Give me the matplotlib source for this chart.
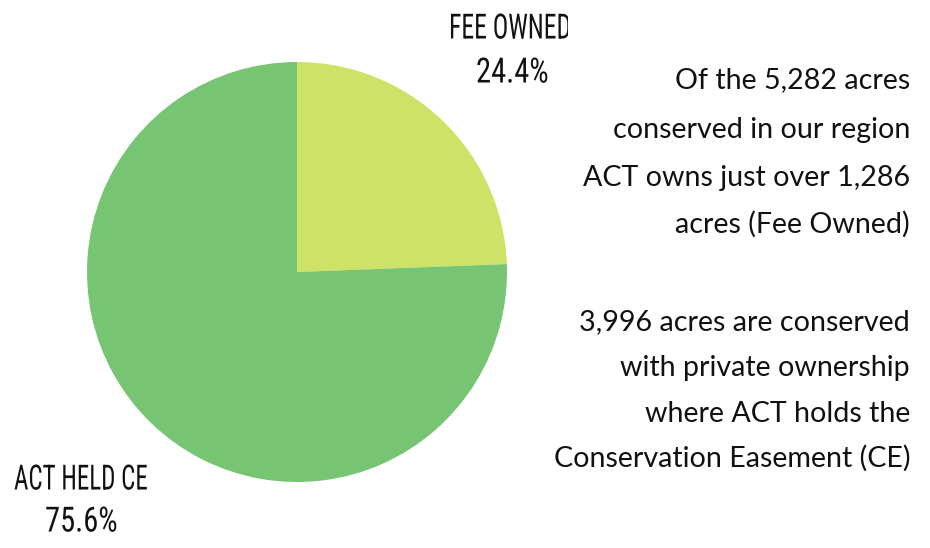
import matplotlib.pyplot as plt
from matplotlib.transforms import Bbox, Affine2D
from matplotlib.patheffects import AbstractPathEffect

# ================== DATA ==================
labels = ["FEE OWNED", "ACT HELD CE"]
shares = [24.4, 75.6]
colors = ["#cde266", "#77c573"]

para_1 = ["Of the 5,282 acres", "conserved in our region",
          "ACT owns just over 1,286", "acres (Fee Owned)"]
para_2 = ["3,996 acres are conserved", "with private ownership",
          "where ACT holds the", "Conservation Easement (CE)"]

W, H = 930, 548
label_font = ["Roboto Condensed", "DejaVu Sans"]
body_font = ["Lato", "DejaVu Sans"]


# estrecha el texto en horizontal (el original usa una fuente tipo Bebas)
class Squeeze(AbstractPathEffect):
    def __init__(self, sx, x0):
        super().__init__()
        self.sx = sx
        self.x0 = x0

    def draw_path(self, renderer, gc, tpath, affine, rgbFace=None):
        extra = Affine2D().translate(-self.x0, 0).scale(self.sx, 1).translate(self.x0, 0)
        renderer.draw_path(gc, tpath, affine + extra, rgbFace)


# ================== PLOT ==================
fig = plt.figure(figsize=(W / 100, H / 100), dpi=100)

# pie centre (297, 272) px, radius 210 px
cx, cy, r = 297, H - 272, 210
ax = fig.add_axes([(cx - r) / W, (cy - r) / H, 2 * r / W, 2 * r / H])
ax.pie(shares, colors=colors, startangle=90, counterclock=False,
       radius=1, wedgeprops=dict(linewidth=0))
ax.set_xlim(-1, 1)
ax.set_ylim(-1, 1)
ax.set_aspect("equal")
ax.axis("off")


def label(x, y, s, sx):
    # x = borde izquierdo en px, el estrechado se hace desde ahí
    return fig.text(x / W, 1 - y / H, s, ha="left", va="center",
                    fontsize=25, family=label_font, fontstretch="condensed",
                    color="#111111", path_effects=[Squeeze(sx, x)])


t = label(449, 29, labels[0], 0.74)
# la "D" aparece recortada en el original
t.set_clip_box(Bbox.from_extents(0, 0, 568, H))
t.set_clip_on(True)
label(476, 73, f"{shares[0]}%", 0.88)
label(14, 480, labels[1], 0.72)
label(45, 522, f"{shares[1]}%", 0.88)

# texto de la derecha
y_lines_1 = [80, 130, 178, 224]
y_lines_2 = [322, 368, 414, 458]
for line, y in zip(para_1 + para_2, y_lines_1 + y_lines_2):
    fig.text(910 / W, 1 - y / H, line, ha="right", va="center",
             fontsize=20.6, family=body_font, color="#111111")

fig.savefig("out.png", dpi=100, facecolor="white")
